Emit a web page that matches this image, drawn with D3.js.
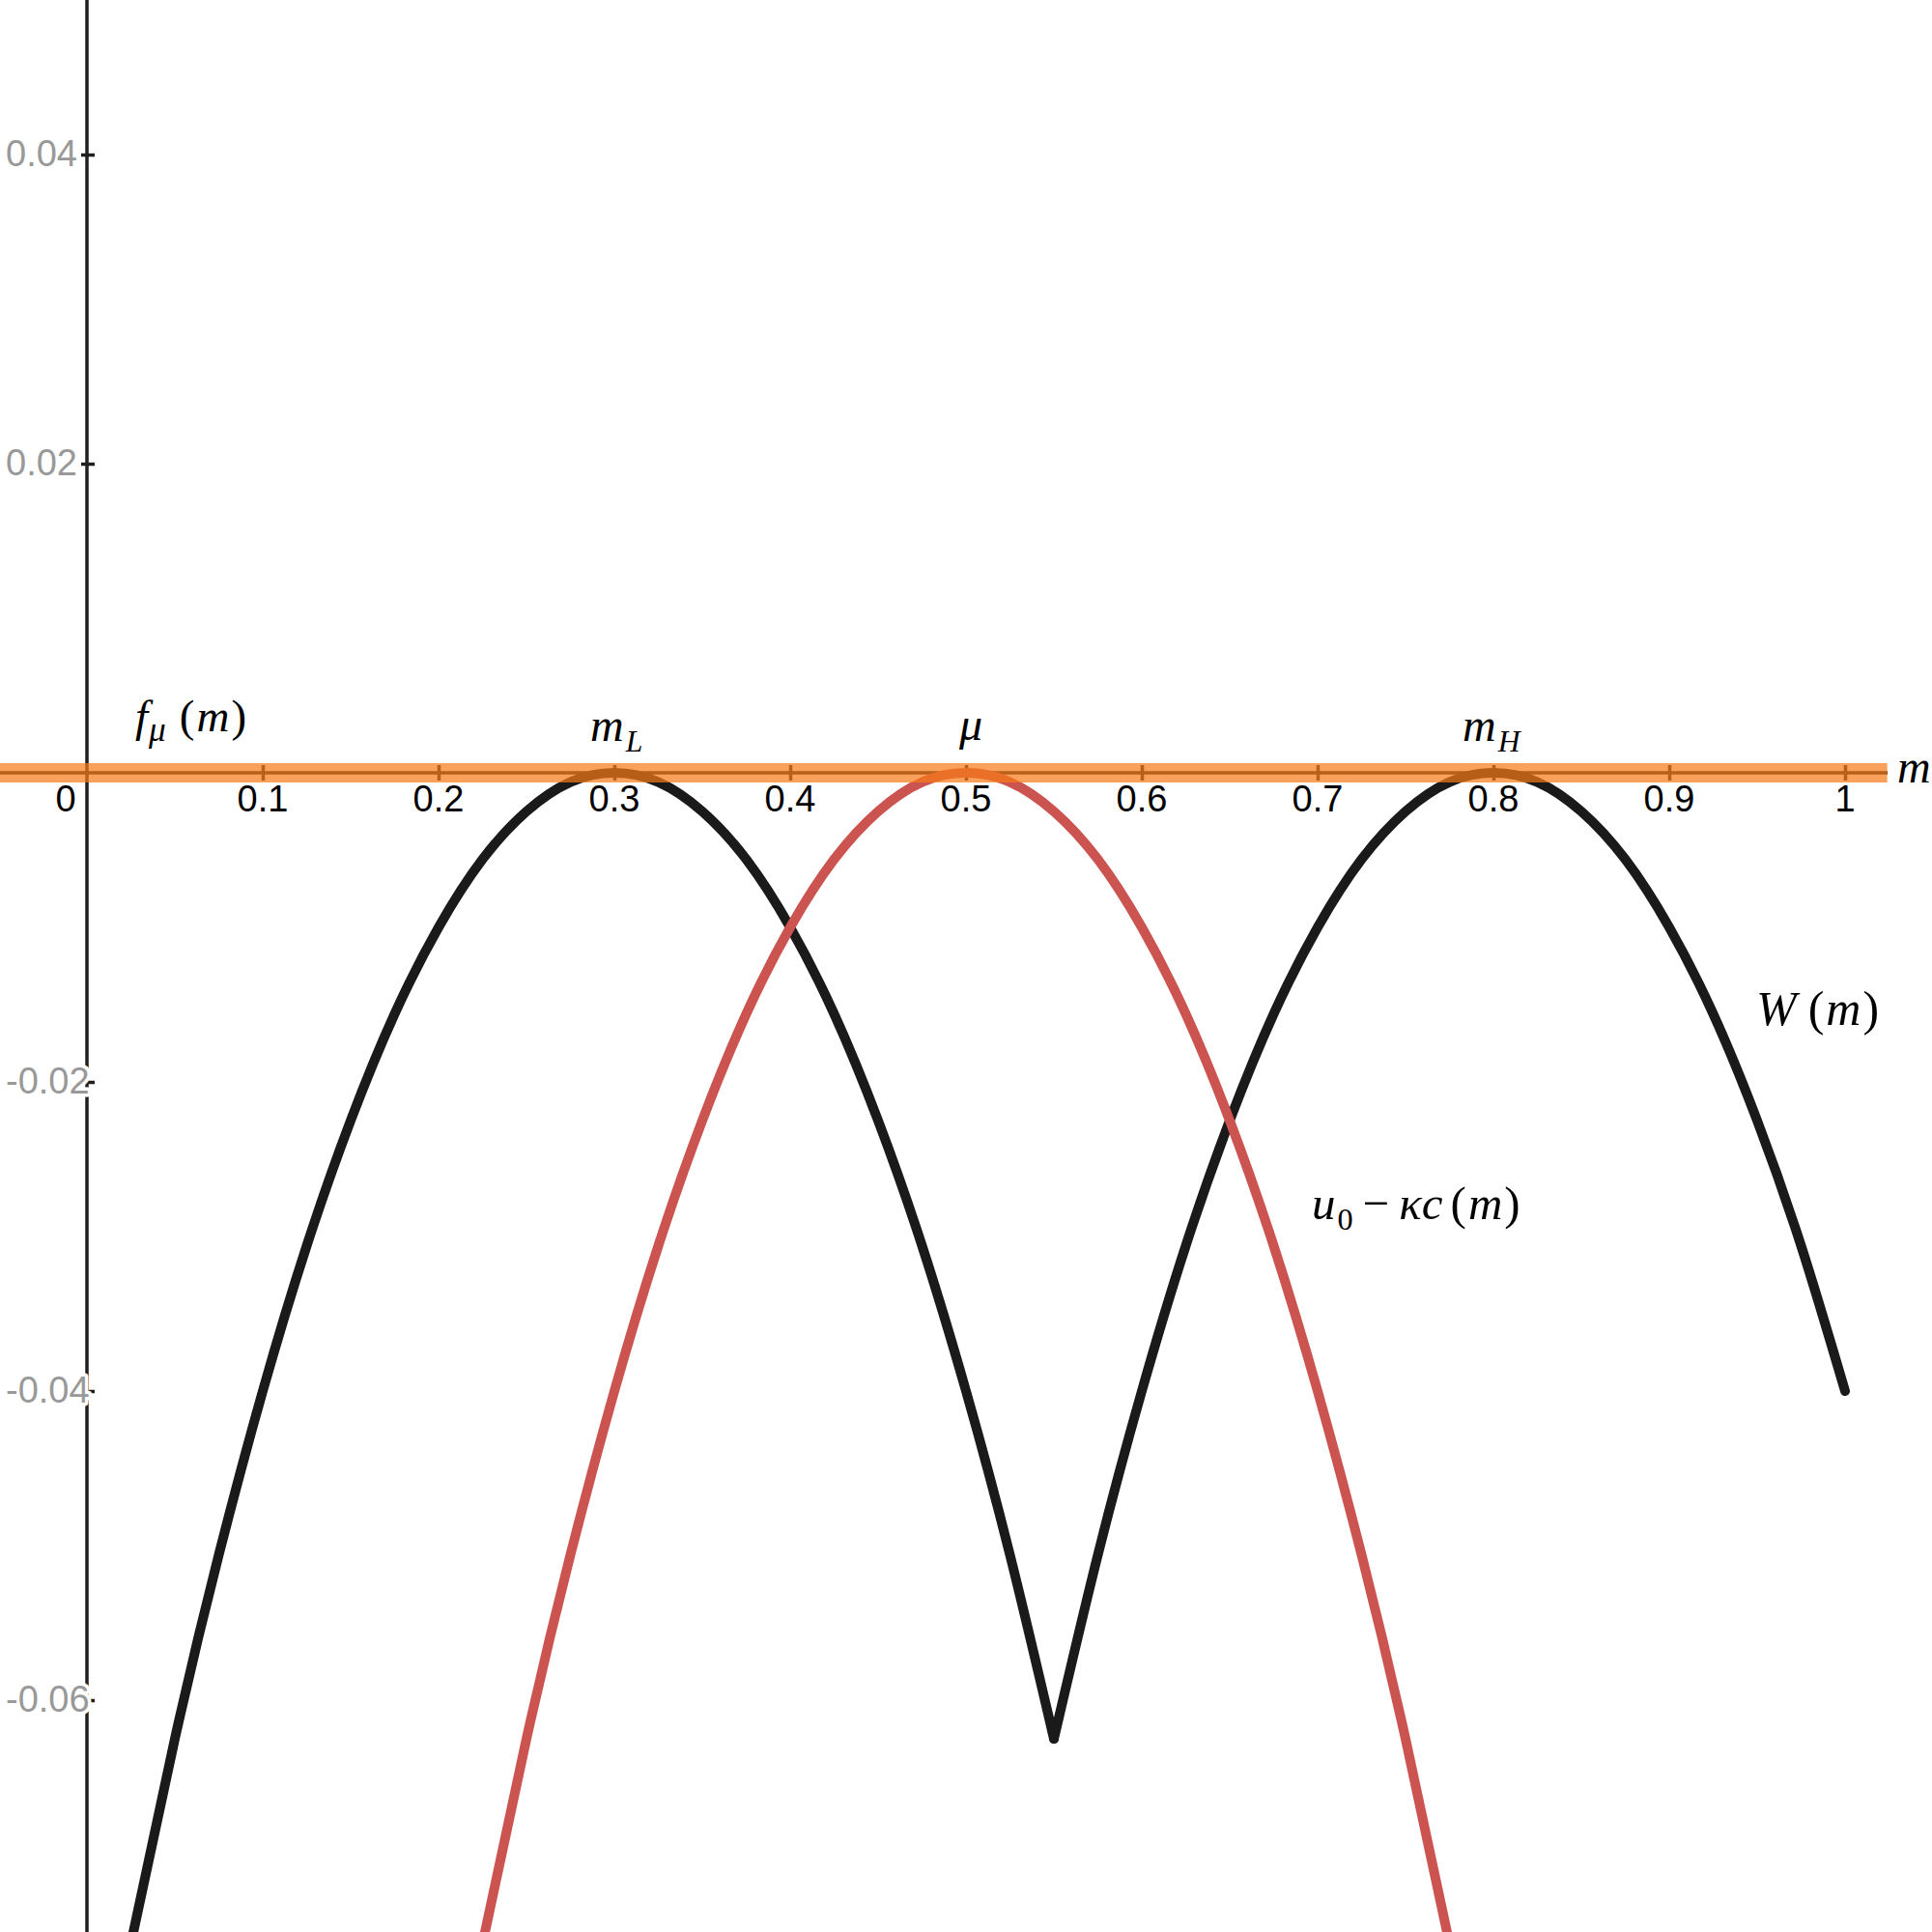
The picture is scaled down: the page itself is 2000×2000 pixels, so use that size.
<!DOCTYPE html>
<html>
<head>
<meta charset="utf-8">
<script src="https://cdn.jsdelivr.net/npm/d3@7/dist/d3.min.js"></script>
<style>
  html, body { margin: 0; padding: 0; background: #fff; }
  svg { display: block; }
</style>
</head>
<body>
<svg id="chart" width="2000" height="2000"></svg>
<script>
// ---- data ----
// W(m): left branch (peak at m_L = 0.3) up to the kink at 0.55
const wLeftM    = [0.02, 0.05, 0.075, 0.1, 0.125, 0.15, 0.175, 0.2, 0.225, 0.25, 0.275, 0.3, 0.325, 0.35, 0.375, 0.4, 0.425, 0.45, 0.475, 0.5, 0.525, 0.55];
const wLeftV    = [-0.0784, -0.0625, -0.0506, -0.04, -0.0306, -0.0225, -0.0156, -0.01, -0.0056, -0.0025, -0.0006, 0, -0.0006, -0.0025, -0.0056, -0.01, -0.0156, -0.0225, -0.0306, -0.04, -0.0506, -0.0625];
// W(m): right branch (peak at m_H = 0.8) from the kink to m = 1
const wRightM   = [0.55, 0.575, 0.6, 0.625, 0.65, 0.675, 0.7, 0.725, 0.75, 0.775, 0.8, 0.825, 0.85, 0.875, 0.9, 0.925, 0.95, 0.975, 1.0];
const wRightV   = [-0.0625, -0.0506, -0.04, -0.0306, -0.0225, -0.0156, -0.01, -0.0056, -0.0025, -0.0006, 0, -0.0006, -0.0025, -0.0056, -0.01, -0.0156, -0.0225, -0.0306, -0.04];
// u0 - kappa c(m): peak at mu = 0.5
const costM     = [0.22, 0.25, 0.275, 0.3, 0.325, 0.35, 0.375, 0.4, 0.425, 0.45, 0.475, 0.5, 0.525, 0.55, 0.575, 0.6, 0.625, 0.65, 0.675, 0.7, 0.725, 0.75, 0.78];
const costV     = [-0.0784, -0.0625, -0.0506, -0.04, -0.0306, -0.0225, -0.0156, -0.01, -0.0056, -0.0025, -0.0006, 0, -0.0006, -0.0025, -0.0056, -0.01, -0.0156, -0.0225, -0.0306, -0.04, -0.0506, -0.0625, -0.0784];
// f_mu(m): flat along zero
const fMuM      = [-0.05, 1.024];
const fMuV      = [0, 0];
// ticks
const xTicks    = [0, 0.1, 0.2, 0.3, 0.4, 0.5, 0.6, 0.7, 0.8, 0.9, 1];
const yTicks    = [-0.06, -0.04, -0.02, 0.02, 0.04];
const yTickLbls = ["-0.06", "-0.04", "-0.02", "0.02", "0.04"];

// ---- scales ----
const svg = d3.select("#chart");
const x = d3.scaleLinear().domain([0, 1]).range([90, 1910]);
const y = d3.scaleLinear().domain([-0.075, 0.05]).range([2000, 0]);
const x0 = x(0), y0 = y(0);

const axisColor = "#1f1f1f";

// y axis line
svg.append("line")
  .attr("x1", x0).attr("x2", x0).attr("y1", 0).attr("y2", 2000)
  .attr("stroke", axisColor).attr("stroke-width", 3.5);

// y ticks (marks only)
const yAxis = d3.axisLeft(y).tickValues(yTicks).tickSize(0).tickFormat("");
const gy = svg.append("g").attr("transform", `translate(${x0},0)`).call(yAxis);
gy.select(".domain").remove();
gy.selectAll(".tick line")
  .attr("x1", -6).attr("x2", 8)
  .attr("stroke", axisColor).attr("stroke-width", 3.5);

// x axis line
svg.append("line")
  .attr("x1", 0).attr("x2", 1954).attr("y1", y0).attr("y2", y0)
  .attr("stroke", axisColor).attr("stroke-width", 3.5);

// x ticks
const xAxis = d3.axisBottom(x).tickValues(xTicks.filter(d => d > 0)).tickSize(0).tickFormat("");
const gx = svg.append("g").attr("transform", `translate(0,${y0})`).call(xAxis);
gx.select(".domain").remove();
gx.selectAll(".tick line")
  .attr("y1", -8).attr("y2", 8)
  .attr("stroke", axisColor).attr("stroke-width", 3.5);

// x tick labels
svg.append("g").selectAll("text")
  .data(xTicks)
  .join("text")
  .attr("x", d => d === 0 ? x0 - 22 : x(d))
  .attr("y", y0 + 40)
  .attr("text-anchor", "middle")
  .attr("font-family", "'Liberation Sans', Arial, sans-serif")
  .attr("font-size", 38)
  .attr("fill", "#000")
  .text(d => d3.format("~g")(d));

// curves
const line = d3.line().x(d => x(d[0])).y(d => y(d[1])).curve(d3.curveNatural);
const wLeft  = wLeftM.map((m, i) => [m, wLeftV[i]]);
const wRight = wRightM.map((m, i) => [m, wRightV[i]]);
const cost   = costM.map((m, i) => [m, costV[i]]);
const fMu    = fMuM.map((m, i) => [m, fMuV[i]]);

[wLeft, wRight].forEach(seg => {
  svg.append("path").datum(seg).attr("d", line)
    .attr("fill", "none").attr("stroke", "#1a1a1a").attr("stroke-width", 10)
    .attr("stroke-linecap", "round").attr("stroke-linejoin", "round");
});
svg.append("path").datum(cost).attr("d", line)
  .attr("fill", "none").attr("stroke", "#cc5450").attr("stroke-width", 10)
  .attr("stroke-linecap", "round");

// f_mu band (semi-transparent orange, drawn over)
svg.append("path").datum(fMu).attr("d", d3.line().x(d => x(d[0])).y(d => y(d[1])))
  .attr("fill", "none").attr("stroke", "#f67a16").attr("stroke-width", 20)
  .attr("stroke-opacity", 0.71);

// y tick labels (gray, left aligned, white halo)
svg.append("g").selectAll("text")
  .data(yTicks)
  .join("text")
  .attr("x", 6)
  .attr("y", d => y(d) + 12)
  .attr("text-anchor", "start")
  .attr("font-family", "'Liberation Sans', Arial, sans-serif")
  .attr("font-size", 38)
  .attr("fill", "#999999")
  .attr("stroke", "#fff").attr("stroke-width", 7).attr("paint-order", "stroke")
  .attr("stroke-linejoin", "round")
  .text((d, i) => yTickLbls[i]);

// curve labels
const serif = "'Liberation Serif', 'Times New Roman', serif";
function label(xp, yp, size, parts) {
  const t = svg.append("text").attr("x", xp).attr("y", yp)
    .attr("font-family", serif).attr("font-size", size).attr("fill", "#000");
  parts.forEach(p => {
    const s = t.append("tspan").text(p.t);
    if (p.i) s.attr("font-style", "italic");
    if (p.sub) s.attr("font-size", size * (p.sub === true ? 0.66 : p.sub));
    if (p.dy) s.attr("dy", p.dy);
    if (p.dx) s.attr("dx", p.dx);
  });
}
label(140, 757, 47, [
  {t: "f", i: true}, {t: "μ", i: true, sub: 0.75, dy: 10, dx: 1},
  {t: "(", dy: -10, dx: 14}, {t: "m", i: true, dx: 2}, {t: ")", dx: 2}
]);
label(611, 767, 48, [{t: "m", i: true}, {t: "L", i: true, sub: true, dy: 11, dx: 2}]);
label(993, 766, 48, [{t: "μ", i: true}]);
label(1514, 767, 48, [{t: "m", i: true}, {t: "H", i: true, sub: true, dy: 11, dx: 2}]);
label(1964, 810, 48, [{t: "m", i: true}]);
label(1818, 1061, 50, [{t: "W", i: true}, {t: "(", dx: 12}, {t: "m", i: true, dx: 2}, {t: ")", dx: 2}]);
label(1358, 1262, 49, [
  {t: "u", i: true}, {t: "0", sub: true, dy: 11, dx: 2},
  {t: "−", dy: -11, dx: 10}, {t: "κ", i: true, dx: 10}, {t: "c", i: true},
  {t: "(", dx: 8}, {t: "m", i: true, dx: 2}, {t: ")", dx: 2}
]);
</script>
</body>
</html>
